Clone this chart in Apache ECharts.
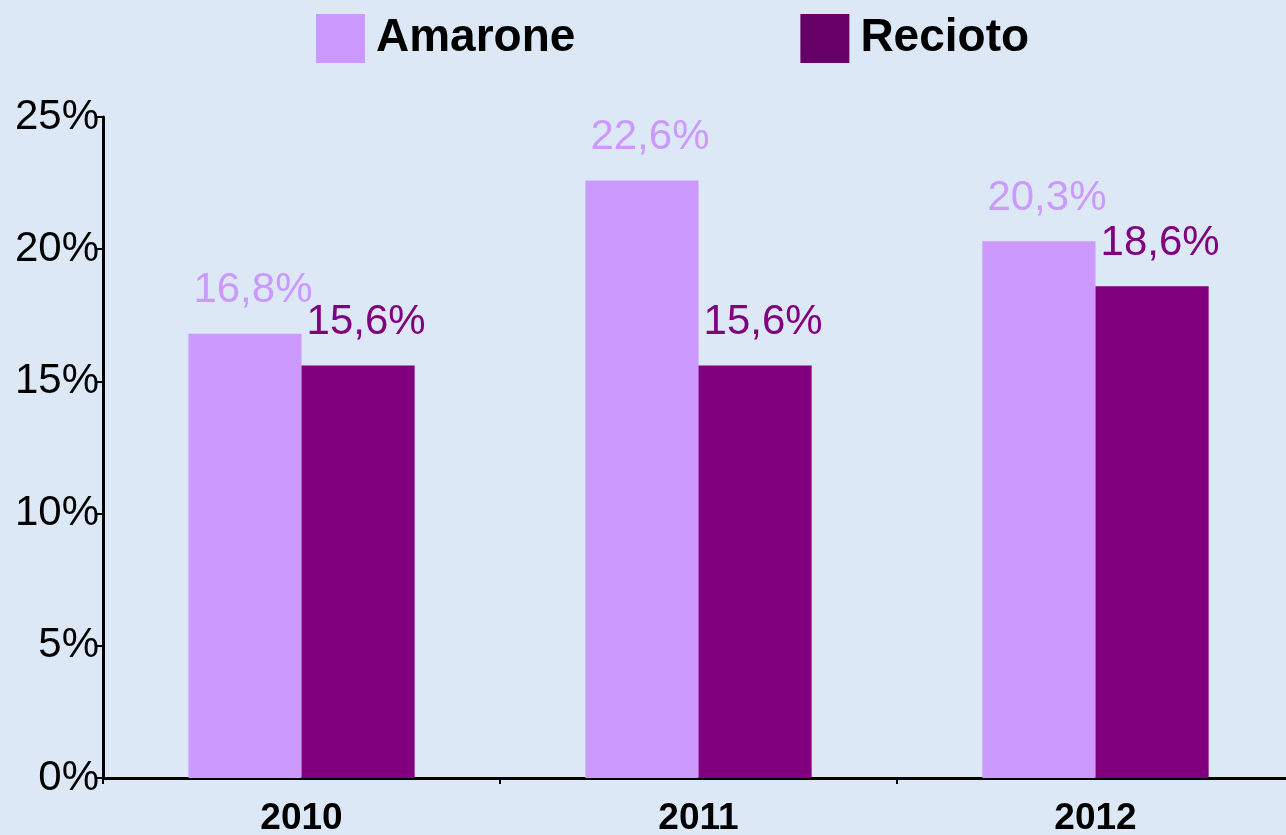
<!DOCTYPE html>
<html>
<head>
<meta charset="utf-8">
<title>Amarone / Recioto</title>
<script src="https://cdn.jsdelivr.net/npm/echarts@6/dist/echarts.min.js"></script>
<style>
    html, body { margin: 0; padding: 0; }
    #main { width: 1286px; height: 835px; background: #dce8f5; }
</style>
</head>
<body>
<div id="main"></div>
<script>
var years = ['2010', '2011', '2012'];
var amaroneData = [16.8, 22.6, 20.3];
var reciotoData = [15.6, 15.6, 18.6];
var yTicks = [0, 5, 10, 15, 20, 25];

function pct(v) {
    return String(v).replace('.', ',') + '%';
}

var labelStyle = function (color) {
    return {
        show: true,
        position: 'top',
        distance: 22,
        offset: [8, 0],
        color: color,
        fontSize: 42,
        fontFamily: 'Liberation Sans, Arial',
        formatter: function (p) { return pct(p.value); }
    };
};

var option = {
    backgroundColor: '#dce8f5',
    legend: {
        top: 9,
        left: 311,
        itemWidth: 49,
        itemHeight: 49,
        itemGap: 225,
        icon: 'rect',
        textStyle: {
            fontSize: 46,
            fontWeight: 'bold',
            color: '#000',
            fontFamily: 'Liberation Sans, Arial',
            padding: [0, 0, 0, 6]
        },
        data: [
            { name: 'Amarone', itemStyle: { color: '#cc99ff' } },
            { name: 'Recioto', itemStyle: { color: '#660066' } }
        ]
    },
    grid: {
        left: 103,
        width: 1191,
        top: 117,
        bottom: 57,
        containLabel: false,
        outerBoundsMode: 'none'
    },
    xAxis: {
        type: 'category',
        data: years,
        axisLine: { lineStyle: { color: '#000', width: 3 } },
        axisTick: { show: true, length: 6, lineStyle: { color: '#000', width: 2 } },
        axisLabel: {
            color: '#000',
            fontSize: 37,
            fontWeight: 'bold',
            fontFamily: 'Liberation Sans, Arial',
            margin: 22
        }
    },
    yAxis: {
        type: 'value',
        min: yTicks[0],
        max: yTicks[yTicks.length - 1],
        interval: 5,
        splitLine: { show: false },
        axisLine: { show: true, lineStyle: { color: '#000', width: 3 } },
        axisTick: { show: true, length: 6, lineStyle: { color: '#000', width: 2 } },
        axisLabel: {
            color: '#000',
            fontSize: 42,
            fontFamily: 'Liberation Sans, Arial',
            margin: 4,
            formatter: '{value}%'
        }
    },
    series: [
        {
            name: 'Amarone',
            type: 'bar',
            data: amaroneData,
            barGap: '0%',
            barCategoryGap: '43%',
            itemStyle: { color: '#cc99ff' },
            label: labelStyle('#cc99ff')
        },
        {
            name: 'Recioto',
            type: 'bar',
            data: reciotoData,
            itemStyle: { color: '#800080' },
            label: labelStyle('#800080')
        }
    ]
};

var myChart = echarts.init(document.getElementById('main'));
myChart.setOption(option);
</script>
</body>
</html>
